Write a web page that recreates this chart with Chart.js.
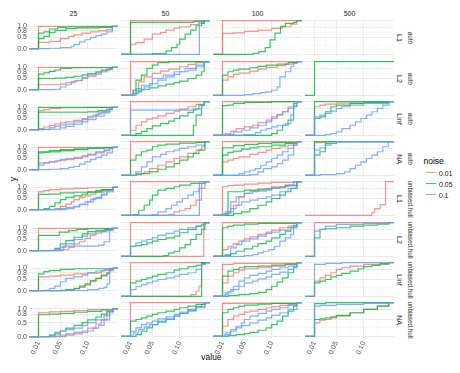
<!DOCTYPE html>
<html><head><meta charset="utf-8">
<script src="https://cdn.jsdelivr.net/npm/chart.js@4.4.1/dist/chart.umd.min.js"></script>
<style>
html,body{margin:0;padding:0;background:#fff;}
body{width:460px;height:373px;position:relative;overflow:hidden;font-family:"Liberation Sans",Arial,sans-serif;}
canvas{position:absolute;}
.t{position:absolute;white-space:nowrap;line-height:1;}
</style></head>
<body>
<script>
// ---- categories / labels ----
const sizeLabels = ['25', '50', '100', '500'];
const normLabels = ['L1', 'L2', 'Linf', 'NA'];
const methodLabels = ['auto', 'unbiased.hull'];
const noiseLabels = ['0.01', '0.05', '0.1'];
const xTickValues = [0.01, 0.05, 0.10];
const xTickLabels = ['0.01', '0.05', '0.10'];
const xMinorValues = [0.03, 0.075, 0.125];
const yTickValues = [0, 0.5, 0.8, 1];
const yTickLabels = ['0.0', '0.5', '0.8', '1.0'];
const yMinorValues = [0.25, 0.65, 0.9];

// ---- ECDF step data: per row & noise level, 4 panels (n = 25, 50, 100, 500),
// each panel a list of curves given as flat [x1,y1, x2,y2, ...] jump points ----
const auto_L1_n001 = [
  [[0.01,1],[0.01,0.28,0.03,0.33,0.05,0.45,0.065,0.55,0.075,0.62,0.09,0.7,0.105,0.75,0.12,0.8,0.135,0.85,0.145,1]],
  [[0.01,1],[0.01,0.3,0.02,0.35,0.035,0.45,0.05,0.6,0.065,0.65,0.075,0.72,0.09,0.78,0.1,0.82,0.12,0.88,0.135,0.92,0.145,1]],
  [[0.01,1],[0.01,0.62,0.03,0.64,0.05,0.68,0.075,0.72,0.1,0.77,0.12,0.82,0.135,0.9,0.145,1]],
  []];
const auto_L1_n005 = [
  [[0.01,0.7,0.02,0.75,0.03,0.88,0.045,0.95,0.06,0.97,0.1,0.98,0.145,1],[0.01,0.45,0.02,0.55,0.03,0.72,0.04,0.82,0.06,0.9,0.08,0.93,0.12,0.95,0.145,1]],
  [[0.01,0.95,0.125,0.97,0.145,1],[0.05,0.02,0.075,0.1,0.085,0.2,0.095,0.3,0.1,0.45,0.11,0.6,0.12,0.72,0.13,0.85,0.14,0.93,0.145,1]],
  [[0.066,0.03,0.076,0.08,0.088,0.2,0.097,0.43,0.106,0.63,0.116,0.83,0.125,0.92,0.14,0.95,0.146,1]],
  []];
const auto_L1_n01 = [
  [[0.03,0.02,0.05,0.05,0.07,0.1,0.075,0.18,0.085,0.3,0.095,0.4,0.105,0.5,0.115,0.58,0.125,0.65,0.135,0.75,0.145,1]],
  [[0.136,1]],
  [],
  []];

const auto_L2_n001 = [
  [[0.01,1],[0.01,0.22,0.05,0.25,0.06,0.32,0.075,0.4,0.09,0.5,0.1,0.6,0.115,0.7,0.125,0.8,0.135,0.9,0.145,1]],
  [[0.01,1],[0.015,0.15,0.025,0.4,0.035,0.55,0.05,0.65,0.065,0.72,0.08,0.78,0.1,0.85,0.115,0.92,0.13,0.97,0.145,1]],
  [[0.01,1],[0.01,0.45,0.02,0.55,0.03,0.62,0.04,0.66,0.06,0.72,0.075,0.78,0.09,0.83,0.11,0.88,0.125,0.93,0.14,0.97,0.146,1]],
  []];
const auto_L2_n005 = [
  [[0.01,0.7,0.02,0.75,0.03,0.82,0.04,0.88,0.05,0.95,0.07,0.98,0.145,1],[0.01,0.5,0.04,0.52,0.06,0.55,0.075,0.6,0.09,0.66,0.1,0.72,0.115,0.8,0.125,0.88,0.14,0.95,0.145,1]],
  [[0.015,0.15,0.02,0.45,0.03,0.6,0.04,0.8,0.05,0.9,0.06,0.97,0.08,1],[0.015,0.05,0.02,0.1,0.03,0.18,0.045,0.22,0.06,0.28,0.075,0.33,0.09,0.38,0.1,0.42,0.115,0.5,0.13,0.6,0.14,0.7,0.145,1]],
  [[0.01,0.6,0.02,0.7,0.03,0.75,0.04,0.78,0.06,0.82,0.075,0.86,0.09,0.9,0.11,0.93,0.13,0.97,0.146,1]],
  [[0.01,1]]];
const auto_L2_n01 = [
  [[0.04,0.02,0.05,0.12,0.06,0.22,0.07,0.35,0.08,0.42,0.09,0.55,0.1,0.65,0.115,0.75,0.125,0.85,0.135,0.92,0.145,1]],
  [[0.015,0.05,0.025,0.15,0.035,0.25,0.045,0.35,0.06,0.45,0.075,0.55,0.09,0.62,0.1,0.7,0.115,0.75,0.13,0.85,0.145,1],[0.02,0.2,0.03,0.3,0.05,0.5,0.07,0.6,0.09,0.7,0.11,0.8,0.13,0.9,0.145,1]],
  [[0.05,0.02,0.065,0.05,0.08,0.08,0.09,0.1,0.1,0.15,0.11,0.25,0.115,0.55,0.125,0.7,0.135,0.85,0.14,0.95,0.146,1]],
  []];

const auto_Linf_n001 = [
  [[0.01,0.85,0.02,0.9,0.03,0.95,0.05,0.98,0.1,1],[0.01,0.05,0.02,0.12,0.03,0.18,0.04,0.25,0.05,0.3,0.06,0.35,0.075,0.42,0.09,0.5,0.1,0.6,0.115,0.7,0.125,0.8,0.14,0.9,0.145,1]],
  [[0.01,1],[0.01,0.15,0.02,0.3,0.03,0.4,0.04,0.48,0.05,0.52,0.06,0.58,0.075,0.65,0.09,0.72,0.1,0.78,0.115,0.85,0.13,0.92,0.145,1]],
  [[0.01,1],[0.015,0.05,0.025,0.12,0.035,0.2,0.05,0.25,0.065,0.3,0.075,0.38,0.09,0.45,0.1,0.55,0.11,0.62,0.12,0.7,0.13,0.85,0.14,0.95,0.146,1]],
  [[0.01,0.85,0.02,0.9,0.03,0.93,0.05,0.96,0.1,0.98,0.146,1]]];
const auto_Linf_n005 = [
  [[0.01,1],[0.01,0.78,0.1,0.8,0.12,0.85,0.135,0.92,0.145,1]],
  [[0.02,0.05,0.03,0.12,0.04,0.2,0.05,0.28,0.065,0.35,0.08,0.42,0.09,0.5,0.1,0.58,0.115,0.68,0.125,0.78,0.135,0.9,0.145,1],[0.125,0.3,0.13,0.6,0.14,0.9,0.145,1]],
  [[0.01,0.88,0.02,0.9,0.03,0.95,0.05,0.98,0.1,1],[0.1,0.05,0.11,0.15,0.12,0.3,0.13,0.45,0.14,0.85,0.146,1]],
  [[0.01,1],[0.01,0.5,0.02,0.55,0.03,0.7,0.04,0.85,0.05,0.9,0.075,0.95,0.1,0.98,0.146,1]]];
const auto_Linf_n01 = [
  [[0.02,0.02,0.03,0.08,0.04,0.15,0.05,0.2,0.06,0.25,0.075,0.35,0.09,0.45,0.1,0.55,0.11,0.65,0.12,0.75,0.13,0.85,0.14,0.92,0.145,1],[0.03,0.02,0.05,0.08,0.06,0.15,0.075,0.25,0.09,0.35,0.1,0.45,0.115,0.6,0.13,0.75,0.14,0.9,0.145,1]],
  [[0.01,0.75,0.13,0.78,0.14,0.9,0.145,1]],
  [[0.02,0.02,0.03,0.1,0.045,0.15,0.06,0.22,0.075,0.3,0.09,0.4,0.1,0.5,0.11,0.6,0.12,0.7,0.13,0.8,0.14,0.95,0.146,1],[0.05,0.02,0.07,0.08,0.08,0.15,0.09,0.2,0.1,0.25,0.11,0.3,0.125,0.35,0.135,0.6,0.14,0.9,0.146,1]],
  [[0.01,0.55,0.02,0.6,0.03,0.65,0.04,0.72,0.05,0.8,0.06,0.85,0.075,0.9,0.1,0.95,0.146,1],[0.03,0.02,0.04,0.05,0.05,0.1,0.06,0.2,0.075,0.3,0.085,0.4,0.095,0.5,0.105,0.6,0.115,0.7,0.125,0.8,0.135,0.9,0.146,1]]];

const auto_NA_n001 = [
  [[0.01,1],[0.01,0.3,0.02,0.32,0.03,0.35,0.045,0.4,0.06,0.45,0.075,0.5,0.09,0.58,0.1,0.65,0.115,0.75,0.13,0.85,0.14,0.95,0.146,1]],
  [[0.01,1],[0.02,0.05,0.035,0.1,0.045,0.2,0.06,0.3,0.075,0.4,0.09,0.5,0.1,0.55,0.115,0.65,0.13,0.75,0.14,0.85,0.146,1]],
  [[0.01,1],[0.01,0.4,0.02,0.45,0.03,0.5,0.04,0.55,0.06,0.62,0.075,0.68,0.09,0.75,0.1,0.8,0.115,0.85,0.13,0.9,0.146,1]],
  [[0.01,0.97,0.03,1]]];
const auto_NA_n005 = [
  [[0.01,0.8,0.03,0.85,0.05,0.9,0.075,0.93,0.1,0.97,0.146,1],[0.01,0.75,0.02,0.78,0.03,0.8,0.05,0.85,0.075,0.9,0.1,0.95,0.13,0.98,0.146,1]],
  [[0.01,0.45,0.02,0.6,0.03,0.7,0.04,0.75,0.05,0.85,0.06,0.9,0.075,0.93,0.1,0.96,0.13,0.98,0.146,1],[0.02,0.02,0.03,0.05,0.045,0.1,0.06,0.18,0.075,0.25,0.09,0.35,0.1,0.45,0.115,0.55,0.125,0.65,0.135,0.75,0.146,1]],
  [[0.01,0.82,0.03,0.88,0.05,0.92,0.075,0.95,0.1,0.97,0.146,1],[0.01,0.6,0.02,0.68,0.03,0.72,0.045,0.78,0.06,0.82,0.075,0.85,0.1,0.9,0.125,0.95,0.146,1]],
  [[0.01,1],[0.01,0.6,0.02,0.7,0.03,0.95,0.05,1]]];
const auto_NA_n01 = [
  [[0.01,0.2,0.02,0.3,0.03,0.35,0.04,0.4,0.05,0.45,0.06,0.5,0.075,0.55,0.09,0.62,0.1,0.7,0.115,0.8,0.13,0.88,0.14,0.95,0.146,1],[0.03,0.02,0.05,0.05,0.065,0.1,0.075,0.15,0.085,0.25,0.095,0.35,0.105,0.45,0.115,0.55,0.125,0.65,0.135,0.75,0.145,1]],
  [[0.02,0.1,0.03,0.25,0.04,0.4,0.05,0.55,0.065,0.62,0.075,0.7,0.09,0.75,0.1,0.8,0.115,0.85,0.13,0.9,0.146,1]],
  [[0.04,0.05,0.05,0.1,0.06,0.15,0.07,0.2,0.08,0.3,0.09,0.4,0.1,0.5,0.11,0.6,0.12,0.7,0.13,0.8,0.14,0.9,0.146,1],[0.06,0.02,0.075,0.1,0.085,0.2,0.1,0.25,0.11,0.35,0.12,0.45,0.13,0.6,0.14,0.95,0.146,1]],
  [[0.01,0.75,0.02,0.82,0.03,0.9,0.04,0.95,0.05,1],[0.02,0.02,0.05,0.05,0.065,0.1,0.075,0.2,0.085,0.3,0.095,0.4,0.105,0.5,0.115,0.6,0.125,0.7,0.135,0.85,0.145,1]]];

const hull_L1_n001 = [
  [[0.01,0.8,0.02,0.85,0.03,0.9,0.05,0.93,0.075,0.95,0.1,0.98,0.146,1],[0.04,0.05,0.05,0.15,0.06,0.25,0.07,0.35,0.075,0.45,0.085,0.55,0.095,0.62,0.105,0.7,0.115,0.78,0.13,0.85,0.14,0.9,0.146,1]],
  [[0.01,1],[0.08,0.03,0.09,0.1,0.1,0.15,0.11,0.2,0.12,0.3,0.13,0.45,0.14,0.8,0.146,1]],
  [[0.01,0.85,0.02,0.88,0.03,0.9,0.05,0.93,0.075,0.96,0.1,0.98,0.146,1],[0.01,0.05,0.02,0.1,0.03,0.3,0.04,0.55,0.05,0.65,0.06,0.72,0.075,0.75,0.09,0.8,0.1,0.85,0.125,0.9,0.146,1]],
  [[0.115,0.08,0.12,0.2,0.13,0.32,0.14,1]]];
const hull_L1_n005 = [
  [[0.01,0.68,0.03,0.7,0.05,0.75,0.075,0.78,0.1,0.8,0.125,0.9,0.146,1],[0.02,0.05,0.03,0.15,0.04,0.3,0.05,0.45,0.06,0.55,0.075,0.62,0.09,0.7,0.1,0.78,0.115,0.85,0.13,0.9,0.146,1]],
  [[0.015,0.02,0.025,0.15,0.035,0.3,0.045,0.45,0.05,0.6,0.06,0.75,0.075,0.8,0.09,0.85,0.1,0.9,0.12,0.95,0.146,1]],
  [[0.02,0.7,0.05,0.75,0.075,0.78,0.1,0.82,0.125,0.88,0.146,1],[0.03,0.05,0.045,0.1,0.06,0.2,0.075,0.3,0.09,0.4,0.1,0.5,0.115,0.6,0.125,0.7,0.135,0.8,0.146,1]],
  []];
const hull_L1_n01 = [
  [[0.04,0.02,0.05,0.05,0.06,0.1,0.075,0.15,0.085,0.25,0.095,0.35,0.105,0.45,0.115,0.55,0.125,0.7,0.135,0.85,0.146,1],[0.06,0.05,0.075,0.12,0.085,0.22,0.1,0.35,0.11,0.5,0.125,0.65,0.135,0.8,0.146,1]],
  [[0.05,0.02,0.06,0.1,0.075,0.2,0.085,0.3,0.095,0.4,0.105,0.5,0.115,0.6,0.125,0.7,0.135,0.8,0.14,0.95,0.146,1],[0.136,1]],
  [[0.015,0.1,0.025,0.4,0.035,0.55,0.05,0.65,0.065,0.7,0.075,0.72,0.09,0.75,0.1,0.8,0.115,0.85,0.13,0.9,0.14,1],[0.015,0.05,0.025,0.2,0.035,0.3,0.045,0.4,0.06,0.45,0.075,0.5,0.09,0.55,0.1,0.6,0.115,0.7,0.13,0.8,0.146,1]],
  []];

const hull_L2_n001 = [
  [[0.01,1],[0.05,0.05,0.065,0.15,0.075,0.3,0.085,0.4,0.095,0.55,0.105,0.7,0.115,0.78,0.125,0.85,0.135,0.95,0.146,1]],
  [[0.01,1],[0.144,1]],
  [[0.01,1],[0.01,0.2,0.02,0.3,0.03,0.38,0.04,0.45,0.05,0.52,0.06,0.58,0.075,0.65,0.09,0.72,0.1,0.78,0.115,0.85,0.13,0.9,0.146,1]],
  [[0.01,1]]];
const hull_L2_n005 = [
  [[0.01,0.68,0.048,0.83,0.065,0.9,0.08,0.95,0.1,0.98,0.146,1],[0.03,0.02,0.04,0.1,0.05,0.3,0.06,0.45,0.075,0.6,0.09,0.75,0.1,0.85,0.115,0.9,0.13,0.95,0.146,1]],
  [[0.01,0.3,0.02,0.32,0.03,0.35,0.04,0.4,0.05,0.45,0.06,0.5,0.075,0.55,0.09,0.6,0.1,0.7,0.115,0.8,0.13,0.9,0.14,0.95,0.146,1],[0.07,0.02,0.08,0.1,0.09,0.15,0.1,0.25,0.11,0.35,0.12,0.5,0.13,0.65,0.14,0.8,0.146,1]],
  [[0.01,0.85,0.02,0.9,0.03,0.93,0.05,0.96,0.075,0.98,0.146,1],[0.015,0.02,0.025,0.08,0.035,0.15,0.05,0.22,0.065,0.3,0.075,0.38,0.09,0.45,0.1,0.55,0.115,0.65,0.125,0.75,0.135,0.85,0.146,1]],
  [[0.01,0.55,0.02,0.8,0.03,0.82,0.05,0.85,0.075,0.9,0.1,0.93,0.125,0.96,0.146,1]]];
const hull_L2_n01 = [
  [[0.04,0.05,0.05,0.15,0.06,0.3,0.075,0.5,0.09,0.65,0.1,0.75,0.115,0.85,0.13,0.9,0.146,1],[0.055,0.2,0.12,0.25,0.13,0.4,0.14,1]],
  [[0.01,0.3,0.02,0.4,0.03,0.45,0.04,0.5,0.05,0.55,0.06,0.62,0.075,0.68,0.09,0.75,0.1,0.8,0.115,0.85,0.13,0.9,0.14,0.95,0.146,1]],
  [[0.015,0.05,0.025,0.25,0.035,0.35,0.045,0.45,0.06,0.52,0.075,0.6,0.09,0.68,0.1,0.72,0.115,0.78,0.13,0.85,0.14,0.92,0.146,1],[0.05,0.02,0.065,0.05,0.075,0.1,0.085,0.15,0.095,0.2,0.105,0.3,0.115,0.45,0.125,0.55,0.135,0.65,0.14,0.9,0.146,1]],
  [[0.01,0.75,0.02,0.8,0.03,0.9,0.05,0.95,0.1,0.98,0.146,1]]];

const hull_Linf_n001 = [
  [[0.01,0.62,0.03,0.65,0.05,0.7,0.075,0.75,0.1,0.8,0.125,0.9,0.146,1],[0.06,0.03,0.075,0.08,0.085,0.15,0.095,0.25,0.105,0.4,0.115,0.55,0.125,0.65,0.135,0.75,0.14,0.9,0.146,1]],
  [[0.01,1],[0.12,0.05,0.13,0.15,0.135,0.3,0.14,0.95,0.146,1]],
  [[0.01,0.95,0.03,0.98,0.146,1],[0.01,0.4,0.02,0.6,0.03,0.7,0.04,0.78,0.05,0.82,0.075,0.85,0.1,0.9,0.125,0.95,0.146,1]],
  [[0.01,0.45,0.02,0.55,0.03,0.62,0.04,0.7,0.05,0.8,0.06,0.85,0.075,0.9,0.1,0.95,0.146,1]]];
const hull_Linf_n005 = [
  [[0.01,0.75,0.02,0.85,0.03,0.9,0.05,0.95,0.075,0.98,0.146,1],[0.05,0.02,0.06,0.05,0.075,0.1,0.085,0.2,0.095,0.3,0.105,0.45,0.115,0.55,0.125,0.7,0.135,0.8,0.14,0.95,0.146,1]],
  [[0.01,0.4,0.02,0.45,0.03,0.5,0.04,0.55,0.05,0.6,0.06,0.65,0.075,0.7,0.09,0.78,0.1,0.82,0.115,0.88,0.13,0.92,0.14,0.97,0.146,1],[0.14,1]],
  [[0.01,0.6,0.02,0.75,0.03,0.8,0.04,0.85,0.05,0.88,0.075,0.9,0.1,0.93,0.125,0.96,0.146,1],[0.02,0.02,0.04,0.05,0.06,0.08,0.075,0.12,0.09,0.2,0.1,0.3,0.11,0.42,0.12,0.55,0.13,0.7,0.14,0.85,0.146,1]],
  [[0.01,0.4,0.02,0.45,0.03,0.5,0.04,0.58,0.05,0.62,0.06,0.68,0.075,0.75,0.09,0.82,0.1,0.88,0.115,0.92,0.13,0.97,0.146,1]]];
const hull_Linf_n01 = [
  [[0.02,0.02,0.03,0.1,0.04,0.2,0.05,0.4,0.06,0.55,0.075,0.62,0.09,0.7,0.1,0.8,0.115,0.88,0.13,0.95,0.146,1],[0.1,0.05,0.12,0.1,0.13,0.15,0.135,0.3,0.14,1]],
  [[0.01,0.2,0.02,0.3,0.03,0.35,0.04,0.4,0.05,0.45,0.06,0.5,0.075,0.55,0.09,0.6,0.1,0.65,0.115,0.7,0.13,0.8,0.14,0.95,0.146,1]],
  [[0.015,0.05,0.02,0.15,0.03,0.3,0.04,0.45,0.05,0.55,0.06,0.62,0.075,0.68,0.09,0.75,0.1,0.8,0.115,0.85,0.13,0.9,0.146,1],[0.015,0.1,0.025,0.2,0.04,0.3,0.05,0.4,0.065,0.45,0.075,0.52,0.09,0.58,0.1,0.65,0.115,0.72,0.13,0.8,0.14,0.88,0.146,1]],
  [[0.01,0.95,0.03,0.98,0.06,1]]];

const hull_NA_n001 = [
  [[0.01,0.85,0.03,0.88,0.05,0.9,0.075,0.93,0.1,0.96,0.146,1],[0.04,0.02,0.05,0.05,0.06,0.1,0.075,0.15,0.09,0.2,0.1,0.3,0.115,0.45,0.125,0.6,0.135,0.85,0.146,1]],
  [[0.01,1]],
  [[0.01,0.98,0.146,1],[0.01,0.3,0.02,0.5,0.03,0.6,0.04,0.65,0.05,0.72,0.06,0.75,0.075,0.8,0.09,0.85,0.1,0.88,0.115,0.92,0.13,0.95,0.146,1]],
  [[0.01,0.4,0.02,0.48,0.03,0.5,0.04,0.55,0.05,0.6,0.075,0.7,0.1,0.8,0.125,0.9,0.146,1]]];
const hull_NA_n005 = [
  [[0.01,0.78,0.03,0.8,0.05,0.83,0.075,0.87,0.1,0.9,0.125,0.95,0.146,1],[0.03,0.05,0.04,0.1,0.05,0.2,0.06,0.3,0.075,0.4,0.09,0.5,0.1,0.6,0.115,0.7,0.125,0.8,0.135,0.9,0.146,1]],
  [[0.01,0.45,0.02,0.5,0.03,0.55,0.04,0.6,0.05,0.65,0.06,0.7,0.075,0.75,0.09,0.8,0.1,0.85,0.115,0.9,0.13,0.95,0.146,1],[0.02,0.05,0.03,0.15,0.04,0.25,0.05,0.35,0.06,0.42,0.075,0.5,0.09,0.6,0.1,0.68,0.115,0.78,0.13,0.88,0.14,0.95,0.146,1]],
  [[0.01,0.7,0.02,0.8,0.03,0.85,0.04,0.9,0.05,0.93,0.075,0.96,0.1,0.98,0.146,1],[0.02,0.02,0.035,0.05,0.05,0.08,0.06,0.12,0.075,0.18,0.09,0.25,0.1,0.35,0.11,0.45,0.12,0.6,0.13,0.75,0.14,0.9,0.146,1]],
  [[0.01,0.97,0.03,1],[0.01,0.5,0.02,0.52,0.03,0.55,0.04,0.58,0.05,0.62,0.075,0.7,0.1,0.8,0.125,0.9,0.146,1]]];
const hull_NA_n01 = [
  [[0.03,0.05,0.04,0.15,0.05,0.2,0.06,0.25,0.075,0.3,0.09,0.4,0.1,0.5,0.115,0.6,0.13,0.75,0.14,0.9,0.146,1],[0.06,0.05,0.075,0.1,0.09,0.15,0.1,0.2,0.11,0.3,0.12,0.4,0.13,0.6,0.14,0.9,0.146,1]],
  [[0.01,0.15,0.02,0.25,0.03,0.35,0.04,0.4,0.05,0.45,0.06,0.52,0.075,0.58,0.09,0.65,0.1,0.72,0.115,0.8,0.13,0.88,0.146,1],[0.015,0.1,0.025,0.2,0.035,0.28,0.045,0.35,0.06,0.45,0.075,0.52,0.09,0.6,0.1,0.68,0.115,0.75,0.13,0.85,0.146,1]],
  [[0.015,0.1,0.025,0.2,0.035,0.3,0.045,0.4,0.05,0.5,0.06,0.6,0.075,0.68,0.09,0.75,0.1,0.8,0.115,0.85,0.13,0.92,0.146,1],[0.015,0.05,0.025,0.15,0.035,0.25,0.045,0.32,0.06,0.4,0.075,0.48,0.09,0.55,0.1,0.62,0.115,0.7,0.13,0.8,0.146,1]],
  [[0.01,0.9,0.02,0.92,0.05,0.95,0.1,0.98,0.146,1]]];

const rowData = [
  [auto_L1_n001, auto_L1_n005, auto_L1_n01],
  [auto_L2_n001, auto_L2_n005, auto_L2_n01],
  [auto_Linf_n001, auto_Linf_n005, auto_Linf_n01],
  [auto_NA_n001, auto_NA_n005, auto_NA_n01],
  [hull_L1_n001, hull_L1_n005, hull_L1_n01],
  [hull_L2_n001, hull_L2_n005, hull_L2_n01],
  [hull_Linf_n001, hull_Linf_n005, hull_Linf_n01],
  [hull_NA_n001, hull_NA_n005, hull_NA_n01]
];

// ---- styles / layout ----
const noiseColors = ['rgba(248,118,109,0.8)', 'rgba(0,186,56,0.8)', 'rgba(97,156,255,0.8)'];
const X_MIN = -0.0074, X_MAX = 0.1554, Y_MIN = -0.05, Y_MAX = 1.05;
const COL_LEFT = [29, 121, 213, 305];
const PANEL_W = 89, PANEL_H = 37;
const ROW_TOP = [19, 60, 100, 140, 180, 221, 261, 301];
const Y_AXIS_W = 29, X_AXIS_H = 24;
const FONT = '"Liberation Sans", Arial, sans-serif';
Chart.defaults.font.family = FONT;

function addText(txt, x, y, size, color, rot, align) {
  const d = document.createElement('div');
  d.className = 't';
  d.textContent = txt;
  const tx = align === 'left' ? '0' : '-50%';
  d.style.cssText += `left:${x}px;top:${y}px;font-size:${size}px;color:${color};transform:translate(${tx},-50%) rotate(${rot||0}deg);`;
  document.body.appendChild(d);
}

function curvePoints(flat) {
  const pts = [{x: X_MIN, y: 0}];
  for (let i = 0; i < flat.length; i += 2) pts.push({x: flat[i], y: flat[i + 1]});
  pts.push({x: X_MAX, y: pts[pts.length - 1].y < 1 ? pts[pts.length - 1].y : 1});
  return pts;
}

const allX = xTickValues.concat(xMinorValues).sort((a, b) => a - b);
const allY = yTickValues.concat(yMinorValues).sort((a, b) => a - b);
const isMajor = (arr, v) => arr.some(m => Math.abs(m - v) < 1e-9);

for (let r = 0; r < 8; r++) {
  for (let c = 0; c < 4; c++) {
    const showY = c === 0, showX = r === 7;
    const cv = document.createElement('canvas');
    const w = PANEL_W + (showY ? Y_AXIS_W : 0);
    const h = PANEL_H + (showX ? X_AXIS_H : 0);
    cv.width = w; cv.height = h;
    cv.style.width = w + 'px'; cv.style.height = h + 'px';
    cv.style.left = (COL_LEFT[c] - (showY ? Y_AXIS_W : 0)) + 'px';
    cv.style.top = ROW_TOP[r] + 'px';
    document.body.appendChild(cv);

    const datasets = [];
    for (let n = 0; n < 3; n++) {
      rowData[r][n][c].forEach(flat => {
        datasets.push({
          data: curvePoints(flat),
          borderColor: noiseColors[n],
          borderWidth: 1.2,
          pointRadius: 0,
          stepped: 'before',
          fill: false
        });
      });
    }
    datasets.reverse(); // first dataset is drawn on top -> blue above green above red

    new Chart(cv, {
      type: 'line',
      data: {datasets},
      options: {
        responsive: false, animation: false, events: [],
        devicePixelRatio: 1,
        layout: {padding: 0},
        plugins: {legend: {display: false}, tooltip: {enabled: false}},
        scales: {
          x: {
            type: 'linear', min: X_MIN, max: X_MAX,
            afterBuildTicks: s => { s.ticks = allX.map(v => ({value: v})); },
            afterFit: s => { s.height = showX ? X_AXIS_H : 0; },
            ticks: {
              display: showX, autoSkip: false, minRotation: 65, maxRotation: 65, padding: 2,
              font: {size: 7, family: FONT}, color: '#4D4D4D',
              callback: v => { const i = xTickValues.findIndex(m => Math.abs(m - v) < 1e-9); return i >= 0 ? xTickLabels[i] : ''; }
            },
            grid: {
              drawTicks: false,
              color: ctx => (ctx.tick && isMajor(xTickValues, ctx.tick.value)) ? '#EBEBEB' : '#F3F3F3',
              lineWidth: ctx => (ctx.tick && isMajor(xTickValues, ctx.tick.value)) ? 1 : 0.6
            },
            border: {display: false}
          },
          y: {
            type: 'linear', min: Y_MIN, max: Y_MAX,
            afterBuildTicks: s => { s.ticks = allY.map(v => ({value: v})); },
            afterFit: s => { s.width = showY ? Y_AXIS_W : 0; },
            ticks: {
              display: showY, autoSkip: false, padding: 2,
              font: {size: 7, family: FONT}, color: '#4D4D4D',
              callback: v => { const i = yTickValues.findIndex(m => Math.abs(m - v) < 1e-9); return i >= 0 ? yTickLabels[i] : ''; }
            },
            grid: {
              drawTicks: false,
              color: ctx => (ctx.tick && isMajor(yTickValues, ctx.tick.value)) ? '#EBEBEB' : '#F3F3F3',
              lineWidth: ctx => (ctx.tick && isMajor(yTickValues, ctx.tick.value)) ? 1 : 0.6
            },
            border: {display: false}
          }
        }
      }
    });
  }
}

// strip labels (columns)
sizeLabels.forEach((s, c) => addText(s, COL_LEFT[c] + PANEL_W / 2, 13, 7, '#1A1A1A'));
// strip labels (rows)
for (let r = 0; r < 8; r++) {
  const cy = ROW_TOP[r] + PANEL_H / 2;
  addText(normLabels[r % 4], 398.5, cy, 7, '#1A1A1A', 90);
  addText(methodLabels[Math.floor(r / 4)], 409.5, cy, 6.3, '#1A1A1A', 90);
}
// axis titles
addText('value', 211.5, 357, 8.5, '#000');
addText('y', 12.5, 179, 8.5, '#000', -90);

// legend
addText('noise', 423.5, 161, 8.5, '#000', 0, 'left');
noiseLabels.forEach((lab, i) => {
  const y = 172.7 + i * 11;
  const k = document.createElement('div');
  k.style.cssText = `position:absolute;left:426px;top:${y - 0.6}px;width:10px;height:1.2px;background:${noiseColors[i]};`;
  document.body.appendChild(k);
  addText(lab, 439, y, 7, '#1A1A1A', 0, 'left');
});
</script>
</body></html>
